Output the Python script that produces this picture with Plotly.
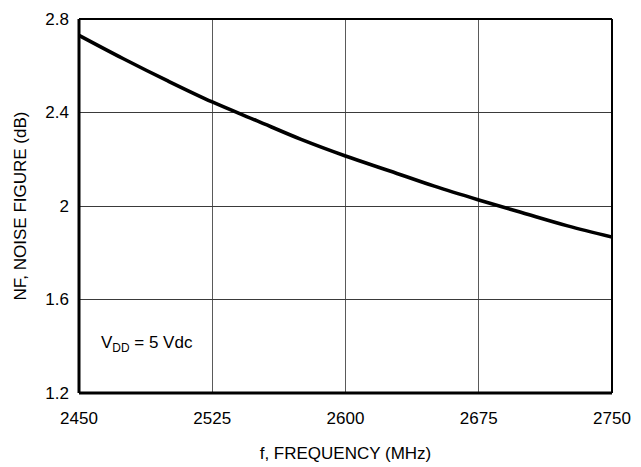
import plotly.graph_objects as go

freq = [2450, 2475, 2500, 2525, 2550, 2575, 2600, 2625, 2650, 2675, 2700, 2725, 2750]
nf = [2.73, 2.63, 2.535, 2.445, 2.365, 2.285, 2.214, 2.15, 2.085, 2.026, 1.97, 1.915, 1.867]
x_ticks = [2450, 2525, 2600, 2675, 2750]
y_ticks = [1.2, 1.6, 2.0, 2.4, 2.8]
y_labels = ["1.2", "1.6", "2", "2.4", "2.8"]

FONT = "Liberation Sans Narrow, Arial Narrow, Liberation Sans, Arial, sans-serif"
# page body has an 8px default margin, so the figure is offset by 8px
fig = go.Figure()
fig.add_trace(go.Scatter(x=freq, y=nf, mode="lines",
                         line=dict(color="black", width=3.6, shape="spline"),
                         showlegend=False, hoverinfo="skip"))

fig.update_layout(
    width=633, height=459,
    margin=dict(l=71, r=29, t=11, b=74, pad=0),
    paper_bgcolor="white", plot_bgcolor="white",
    font=dict(family=FONT, size=17, color="black"),
    xaxis=dict(range=[2450, 2750], tickvals=x_ticks, ticks="", showgrid=True,
               gridcolor="#5a5a5a", gridwidth=1.3, zeroline=False, automargin=False,
               showline=False, tickfont=dict(size=17, family=FONT),
               ticklabelstandoff=13,
               title=dict(text="f, FREQUENCY (MHz)", font=dict(size=17, family=FONT), standoff=20)),
    yaxis=dict(range=[1.2, 2.8], tickvals=y_ticks, ticktext=y_labels, ticks="", showgrid=True,
               gridcolor="#3a3a3a", gridwidth=1.3, zeroline=False, automargin=False,
               showline=False, tickfont=dict(size=17, family=FONT),
               ticklabelstandoff=9,
               title=dict(text="NF, NOISE FIGURE (dB)", font=dict(size=17, family=FONT), standoff=14)),
    annotations=[dict(x=0.128, y=0.13, xref="paper", yref="paper",
                      xanchor="center", yanchor="middle",
                      text="V<sub>DD</sub> = 5 Vdc", showarrow=False,
                      font=dict(size=17, family=FONT, color="black"))],
    shapes=[
        dict(type="line", xref="paper", yref="paper", x0=0, x1=1, y0=1, y1=1, line=dict(color="black", width=1.8)),
        dict(type="line", xref="paper", yref="paper", x0=1, x1=1, y0=0, y1=1, line=dict(color="black", width=2)),
        dict(type="line", xref="paper", yref="paper", x0=0, x1=0, y0=0, y1=1, line=dict(color="black", width=3)),
        dict(type="line", xref="paper", yref="paper", x0=0, x1=1, y0=0, y1=0, line=dict(color="black", width=3)),
    ],
)

fig.write_html("out.html")
